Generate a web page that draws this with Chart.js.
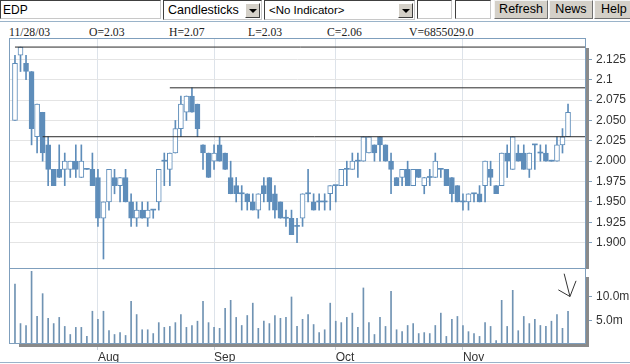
<!DOCTYPE html>
<html><head><meta charset="utf-8">
<script src="https://cdn.jsdelivr.net/npm/chart.js@4/dist/chart.umd.min.js"></script>
<style>
body{margin:0;width:630px;height:364px;overflow:hidden;background:#fff;position:relative;font-family:"Liberation Sans",Arial,sans-serif;}
.box{position:absolute;box-sizing:border-box;background:#fff;border-style:solid;border-width:1px;border-color:#404040 #c8c8c8 #c8c8c8 #404040;font-size:12px;color:#000;white-space:nowrap;overflow:hidden;}
.dd{position:absolute;top:2px;width:15px;height:15px;box-sizing:border-box;background:#d4d0c8;border:1px solid;border-color:#fff #404040 #404040 #fff;}
.dd:after{content:"";position:absolute;left:3px;top:5px;border-left:4px solid transparent;border-right:4px solid transparent;border-top:4px solid #000;}
.btn{position:absolute;top:0;height:19px;box-sizing:border-box;background:#d4d0c8;border:1px solid;border-color:#f4f4f4 #707070 #707070 #f4f4f4;font-size:12.5px;color:#000;text-align:center;line-height:17px;overflow:hidden;white-space:nowrap;}
.hd{position:absolute;top:26px;font-family:"Liberation Serif","Times New Roman",serif;font-size:11.7px;color:#222;white-space:nowrap;}
canvas{position:absolute;left:0;}
</style></head><body>
<div class="box" style="left:0;top:0;width:161px;height:19px;padding:2px 0 0 2px;">EDP</div>
<div class="box" style="left:163px;top:0;width:99px;height:20px;padding:2px 0 0 4px;font-size:12.5px;">Candlesticks<div class="dd" style="left:81px;"></div></div>
<div class="box" style="left:264px;top:0;width:151px;height:20px;padding:3px 0 0 4px;font-size:11.5px;">&lt;No Indicator&gt;<div class="dd" style="left:133px;"></div></div>
<div class="box" style="left:417px;top:0;width:35px;height:19px;"></div>
<div class="box" style="left:455px;top:0;width:36px;height:19px;"></div>
<div class="btn" style="left:494px;width:54px;">Refresh</div>
<div class="btn" style="left:549px;width:44px;">News</div>
<div class="btn" style="left:594px;width:40px;text-align:left;padding-left:6px;">Help</div>
<div style="position:absolute;left:0;top:21px;width:630px;height:1px;background:#9ab3c9;"></div>
<div class="hd" style="left:9px;">11/28/03</div>
<div class="hd" style="left:89px;">O=2.03</div>
<div class="hd" style="left:169px;">H=2.07</div>
<div class="hd" style="left:248px;">L=2.03</div>
<div class="hd" style="left:327px;">C=2.06</div>
<div class="hd" style="left:409px;">V=6855029.0</div>
<canvas id="price" width="630" height="231" style="top:38px"></canvas>
<canvas id="vol" width="630" height="94" style="top:268px"></canvas>
<div style="position:absolute;left:0;top:362px;width:630px;height:1px;background:#9ab3c9;"></div>
<script>
// ---- data (daily, 11 Jul 2003 .. 28 Nov 2003) ----
const openP  = [2.05,2.13,2.12,2.11,2.03,2.06,2.02,1.99,1.99,1.99,1.99,2.00,1.98,1.99,1.99,1.98,1.93,1.95,1.98,1.97,1.98,1.95,1.93,1.94,1.93,1.94,1.95,2.00,1.99,2.01,2.04,2.06,2.08,2.07,2.02,2.01,2.00,2.02,2.01,1.98,1.97,1.96,1.96,1.95,1.94,1.97,1.98,1.96,1.95,1.93,1.93,1.92,1.93,1.96,1.95,1.95,1.95,1.96,1.97,1.97,1.99,1.99,2.00,2.00,2.01,2.02,2.03,2.02,2.00,1.98,1.98,1.99,1.97,1.99,1.97,1.98,1.98,1.99,1.99,1.98,1.97,1.95,1.95,1.96,1.96,1.97,1.99,1.97,1.97,2.01,1.99,2.01,2.01,1.99,2.02,2.01,2.01,2.00,2.00,2.02,2.03];
const highP  = [2.13,2.14,2.13,2.11,2.07,2.06,2.03,1.99,2.02,2.01,2.00,2.02,2.02,1.99,2.01,1.99,1.95,1.99,1.99,1.98,1.99,1.96,1.95,1.95,1.95,1.94,1.99,2.01,2.01,2.05,2.08,2.08,2.09,2.07,2.02,2.01,2.02,2.03,2.01,2.00,1.98,1.97,1.96,1.96,1.96,1.98,1.98,1.97,1.95,1.94,1.94,1.93,1.96,1.99,1.96,1.96,1.96,1.97,1.97,1.99,2.00,2.01,2.01,2.03,2.03,2.02,2.03,2.02,2.01,1.98,1.99,2.00,1.99,1.99,1.98,1.99,2.01,1.99,1.99,1.98,1.97,1.96,1.96,1.96,1.97,2.00,2.00,1.97,2.01,2.02,2.03,2.02,2.02,2.01,2.02,2.02,2.02,2.00,2.03,2.04,2.07];
const lowP   = [2.05,2.11,2.10,2.02,2.01,2.00,1.97,1.97,1.98,1.97,1.98,1.98,1.98,1.99,1.97,1.92,1.88,1.94,1.96,1.95,1.95,1.92,1.92,1.93,1.92,1.93,1.94,1.97,1.97,2.01,2.03,2.05,2.06,2.03,1.99,1.98,1.99,2.00,1.99,1.96,1.95,1.94,1.94,1.94,1.93,1.95,1.94,1.93,1.93,1.92,1.91,1.90,1.92,1.95,1.94,1.94,1.94,1.94,1.95,1.97,1.97,1.99,1.98,2.00,2.01,2.00,2.00,2.00,1.96,1.97,1.97,1.97,1.97,1.98,1.96,1.97,1.98,1.98,1.97,1.95,1.95,1.94,1.94,1.95,1.95,1.95,1.97,1.96,1.97,1.98,1.99,2.00,1.99,1.98,1.99,2.00,2.00,2.00,2.00,2.01,2.03];
const closeP = [2.12,2.14,2.11,2.04,2.07,2.01,1.99,1.97,1.98,2.00,2.00,1.99,2.00,1.99,1.97,1.93,1.95,1.99,1.97,1.98,1.95,1.93,1.94,1.93,1.94,1.94,1.99,2.00,2.01,2.04,2.07,2.08,2.06,2.04,2.01,1.98,2.01,2.00,1.99,1.96,1.96,1.96,1.95,1.94,1.96,1.96,1.95,1.94,1.93,1.93,1.91,1.92,1.96,1.96,1.94,1.95,1.95,1.97,1.97,1.99,1.99,2.00,2.00,2.03,2.03,2.01,2.02,2.00,1.99,1.97,1.99,1.97,1.99,1.98,1.98,1.98,2.00,1.99,1.97,1.96,1.95,1.95,1.96,1.96,1.95,2.00,1.98,1.96,2.01,2.00,2.03,2.00,1.99,2.01,2.02,2.01,2.00,2.00,2.02,2.03,2.06];
const volumeM = [12.6,4.3,3.9,15.3,5.8,10.6,5.4,4.3,5.6,3.7,2.0,3.5,3.5,1.6,6.9,5.2,6.9,2.8,2.0,2.4,1.8,9.0,6.2,3.0,3.0,2.2,4.5,3.5,3.7,4.5,6.2,3.5,3.9,4.8,9.0,4.5,3.5,3.3,7.5,9.2,5.6,3.9,6.0,8.6,3.3,4.8,4.3,6.0,5.4,5.6,9.9,3.7,5.2,6.2,4.1,2.4,3.0,8.6,4.8,4.5,5.6,6.5,3.5,11.8,4.5,2.0,5.6,3.7,11.1,3.0,2.6,3.9,4.3,2.2,2.4,2.2,3.9,6.5,1.6,5.2,5.8,3.9,2.6,2.2,1.6,4.5,3.7,0.7,9.2,3.7,11.3,2.8,5.8,4.3,5.2,3.9,3.7,4.8,6.2,3.3,6.86];
const monthTicks  = [15,36,58,81];
const monthLabels = ['Aug','Sep','Oct','Nov'];
const priceTicks  = [1.900,1.925,1.950,1.975,2.000,2.025,2.050,2.075,2.100,2.125];
const priceTickLabels = ['1.900','1.925','1.950','1.975','2.000','2.025','2.050','2.075','2.1','2.125'];
const volTicks = [5,10];
const volTickLabels = ['5.0m','10.0m'];
const trendLevels = [2.14,2.09,2.03];
const trendStarts = [0,28,5];
const arrowStroke1 = [{x:99.3,y:14.8},{x:100.35,y:10.0},{x:98.25,y:11.4}];
const arrowStroke2 = [{x:101.45,y:13.3},{x:100.35,y:10.0}];

// ---- style ----
const X_MIN = -1.08, X_MAX = 103.25;
const CANDLE = '#5e8dba', VOLC = '#7093b3', GRID = '#e4e4e4', VGRID = '#dde3ea';
const BORDER = '#7f9fbd', SHADOW = '#8a8a8a', LABEL = '#333';
const noPad = s => { s.paddingTop = 0; s.paddingBottom = 0; s.paddingLeft = 0; s.paddingRight = 0; };

const panelFrame = {
  id: 'panelFrame',
  afterDraw(chart, args, o) {
    const a = chart.chartArea, c = chart.ctx;
    c.save();
    c.fillStyle = SHADOW;
    c.fillRect(a.right, a.top + o.shadowTop, 3, a.bottom - a.top - o.shadowTop + (o.bottomShadow ? 3 : 0));
    if (o.bottomShadow) c.fillRect(a.left + 10, a.bottom, a.right - a.left - 10, 3);
    c.strokeStyle = BORDER; c.lineWidth = 1;
    c.strokeRect(Math.round(a.left) + 0.5, Math.round(a.top) + 0.5, Math.round(a.right - a.left) - 1, Math.round(a.bottom - a.top) - 1);
    c.restore();
  }
};

const up = closeP.map((c, i) => c > openP[i]);
const doji = closeP.map((c, i) => c === openP[i]);

new Chart(document.getElementById('price'), {
  type: 'bar',
  data: {
    datasets: [
      ...trendLevels.map((lv, k) => ({
        type: 'line', order: -1,
        data: [{x: trendStarts[k], y: lv}, {x: X_MAX, y: lv}],
        borderColor: '#2a2a2a', borderWidth: 1, pointRadius: 0, tension: 0
      })),
      {
        order: 0, grouped: false, barThickness: 5, minBarLength: 1, borderSkipped: false,
        data: openP.map((o, i) => ({x: i, y: [o, closeP[i]]})),
        backgroundColor: up.map(u => u ? '#ffffff' : CANDLE),
        borderColor: CANDLE,
        borderWidth: doji.map(d => d ? 0 : 1)
      },
      {
        order: 1, grouped: false, barThickness: 1, minBarLength: 1, borderWidth: 0,
        data: lowP.map((l, i) => ({x: i, y: [l, highP[i]]})),
        backgroundColor: CANDLE
      }
    ]
  },
  options: {
    responsive: false, animation: false, devicePixelRatio: 1,
    layout: {autoPadding: false, padding: {left: 9, top: 0, right: 0, bottom: 0}},
    plugins: {legend: {display: false}, tooltip: {enabled: false},
      panelFrame: {shadowTop: 10, bottomShadow: false}},
    scales: {
      x: {type: 'linear', min: X_MIN, max: X_MAX, offset: false,
        afterBuildTicks: s => { s.ticks = monthTicks.map(v => ({value: v})); },
        afterFit: s => { s.height = 0; noPad(s); },
        ticks: {display: false},
        grid: {color: VGRID, drawTicks: false, offset: false},
        border: {display: false}},
      y: {type: 'linear', position: 'right', min: 1.86773, max: 2.15113, beginAtZero: false,
        afterBuildTicks: s => { s.ticks = priceTicks.map(v => ({value: v})); },
        afterFit: s => { s.width = 44; noPad(s); },
        ticks: {color: LABEL, font: {family: 'Liberation Sans', size: 12}, padding: 4,
          callback: (v, i) => priceTickLabels[i]},
        grid: {color: GRID, tickColor: '#7f9fbd', tickLength: 6},
        border: {display: false}}
    }
  },
  plugins: [panelFrame]
});

new Chart(document.getElementById('vol'), {
  type: 'bar',
  data: {
    datasets: [
      {type: 'line', order: -1, data: arrowStroke1, borderColor: '#333', borderWidth: 1, pointRadius: 0, tension: 0},
      {type: 'line', order: -1, data: arrowStroke2, borderColor: '#333', borderWidth: 1, pointRadius: 0, tension: 0},
      {order: 0, grouped: false, barThickness: 1, borderWidth: 0,
        data: volumeM.map((v, i) => ({x: i, y: v})), backgroundColor: VOLC}
    ]
  },
  options: {
    responsive: false, animation: false, devicePixelRatio: 1,
    layout: {autoPadding: false, padding: {left: 9, top: 0, right: 0, bottom: 0}},
    plugins: {legend: {display: false}, tooltip: {enabled: false},
      panelFrame: {shadowTop: 9, bottomShadow: true}},
    scales: {
      x: {type: 'linear', min: X_MIN, max: X_MAX, offset: false,
        afterBuildTicks: s => { s.ticks = monthTicks.map(v => ({value: v})); },
        afterFit: s => { s.height = 18; noPad(s); },
        ticks: {color: LABEL, font: {family: 'Liberation Sans', size: 12}, padding: 0, align: 'start',
          maxRotation: 0, minRotation: 0, autoSkip: false,
          callback: v => monthLabels[monthTicks.indexOf(v)]},
        grid: {color: VGRID, tickColor: '#c9d2db', tickLength: 6, offset: false},
        border: {display: false}},
      y: {type: 'linear', position: 'right', min: 0, max: 16.0, beginAtZero: true,
        afterBuildTicks: s => { s.ticks = volTicks.map(v => ({value: v})); },
        afterFit: s => { s.width = 44; noPad(s); },
        ticks: {color: LABEL, font: {family: 'Liberation Sans', size: 12}, padding: 4,
          callback: (v, i) => volTickLabels[i]},
        grid: {drawOnChartArea: false, tickColor: '#7f9fbd', tickLength: 6},
        border: {display: false}}
    }
  },
  plugins: [panelFrame]
});
</script>
</body></html>
